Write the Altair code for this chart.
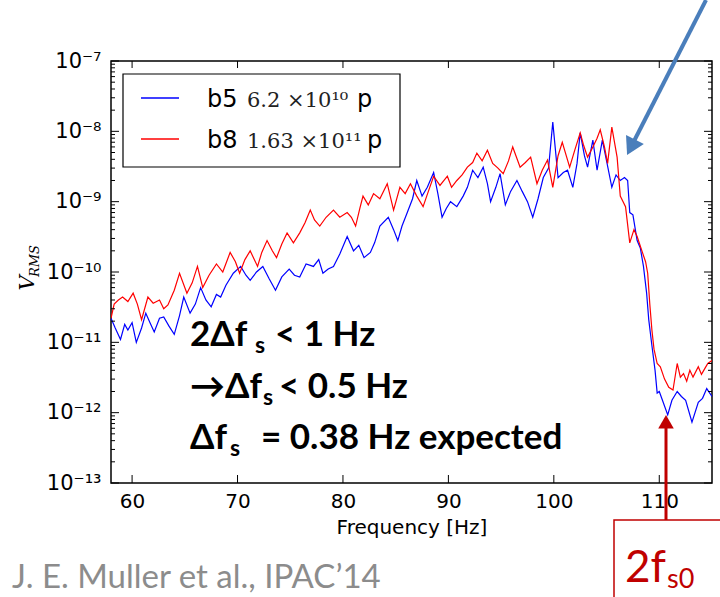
import altair as alt
import pandas as pd

# ---------------- data ----------------
b5_freq = [58.0, 58.4, 58.9, 59.3, 59.6, 60.0, 60.4, 60.9, 61.3, 61.7,
           62.1, 62.6, 63.0, 63.5, 64.0, 64.5, 64.9, 65.5, 66.0, 66.5,
           67.0, 67.5, 68.0, 68.4, 68.9, 69.6, 70.3, 70.8, 71.2, 71.8,
           72.4, 73.0, 73.6, 74.2, 74.9, 75.4, 75.9, 76.5, 77.2, 77.7,
           78.1, 78.6, 79.1, 79.7, 80.4, 81.0, 81.5, 82.0, 82.6, 83.0,
           83.5, 84.3, 84.8, 85.2, 85.6, 86.1, 86.6, 87.0, 87.5, 88.0,
           88.6, 89.0, 89.4, 89.8, 90.2, 90.8, 91.4, 91.8, 92.3, 92.8,
           93.3, 93.7, 94.0, 94.5, 94.9, 95.4, 95.9, 96.5, 97.0, 97.5,
           98.0, 98.5, 99.0, 99.5, 99.9, 100.4, 100.9, 101.3, 101.8, 102.2,
           102.5, 102.9, 103.2, 103.7, 104.1, 104.6, 105.0, 105.5, 105.9, 106.3,
           106.7, 107.0, 107.2, 107.5, 107.9, 108.2, 108.5, 108.8, 109.0, 109.3,
           109.6, 109.8, 110.0, 110.3, 110.8, 111.2, 111.7, 112.1, 112.5, 113.1,
           113.7, 114.1, 114.5, 115.0]
b5_vrms = [2.2e-11, 1.6e-11, 1.1e-11, 1.8e-11, 1.5e-11, 1.9e-11, 1.0e-11, 1.6e-11, 2.6e-11, 1.9e-11,
           1.4e-11, 2.2e-11, 2.3e-11, 1.7e-11, 1.3e-11, 2.4e-11, 4.4e-11, 2.6e-11, 3.5e-11, 6.0e-11,
           4.0e-11, 3.2e-11, 4.8e-11, 4.4e-11, 6.5e-11, 9.6e-11, 1.2e-10, 9.0e-11, 7.6e-11, 1.0e-10,
           1.2e-10, 8.0e-11, 5.5e-11, 8.5e-11, 1.1e-10, 9.0e-11, 8.5e-11, 1.3e-10, 1.2e-10, 1.5e-10,
           9.6e-11, 1.1e-10, 1.2e-10, 1.8e-10, 3.2e-10, 2.0e-10, 2.4e-10, 1.6e-10, 1.9e-10, 2.6e-10,
           4.5e-10, 6.0e-10, 4.0e-10, 2.8e-10, 4.5e-10, 7.0e-10, 1.1e-9, 2.0e-9, 1.2e-9, 1.6e-9,
           2.6e-9, 1.3e-9, 6.0e-10, 8.0e-10, 1.0e-9, 8.5e-10, 1.2e-9, 1.6e-9, 2.8e-9, 2.2e-9,
           3.1e-9, 1.8e-9, 1.0e-9, 1.6e-9, 2.5e-9, 9.0e-10, 1.4e-9, 2.0e-9, 1.4e-9, 1.0e-9,
           6.0e-10, 1.1e-9, 2.2e-9, 3.0e-9, 1.35e-8, 2.2e-9, 2.6e-9, 2.8e-9, 1.6e-9, 3.5e-9,
           9.5e-9, 4.5e-9, 3.1e-9, 7.5e-9, 2.8e-9, 7.5e-9, 3.8e-9, 1.6e-9, 2.4e-9, 2.0e-9,
           2.2e-9, 2.0e-9, 7.0e-10, 6.5e-10, 2.8e-10, 2.2e-10, 1.2e-10, 5.0e-11, 2.1e-11, 9.0e-12,
           4.0e-12, 1.9e-12, 2.0e-12, 1.5e-12, 9.3e-13, 1.5e-12, 2.0e-12, 1.7e-12, 1.5e-12, 7.3e-13,
           1.4e-12, 1.6e-12, 2.2e-12, 1.7e-12]

b8_freq = [58.0, 58.3, 58.7, 59.1, 59.6, 60.1, 60.5, 60.9, 61.5, 62.0,
           62.6, 63.0, 63.4, 64.0, 64.5, 65.2, 65.7, 66.2, 66.7, 67.3,
           68.0, 68.6, 69.3, 69.8, 70.2, 70.7, 71.2, 71.9, 72.3, 72.8,
           73.3, 73.7, 74.2, 74.7, 75.3, 75.9, 76.4, 76.9, 77.3, 77.8,
           78.4, 79.1, 79.7, 80.4, 80.8, 81.2, 81.6, 81.9, 82.4, 82.9,
           83.5, 84.2, 84.8, 85.4, 85.9, 86.4, 87.0, 87.6, 88.1, 88.6,
           89.2, 89.9, 90.3, 90.8, 91.3, 91.8, 92.3, 92.7, 93.2, 93.7,
           94.2, 94.7, 95.2, 95.7, 96.1, 96.8, 97.3, 97.8, 98.4, 98.9,
           99.4, 99.9, 100.4, 100.8, 101.5, 102.0, 102.5, 102.8, 103.2, 103.7,
           104.1, 104.4, 104.8, 105.1, 105.5, 106.0, 106.3, 106.8, 107.2, 107.6,
           107.9, 108.4, 108.7, 108.9, 109.1, 109.3, 109.5, 109.8, 110.1, 110.5,
           110.9, 111.3, 111.7, 112.0, 112.3, 112.6, 112.9, 113.2, 113.7, 114.0,
           114.3, 114.6, 115.0]
b8_vrms = [2.2e-11, 3.5e-11, 4.0e-11, 4.4e-11, 3.8e-11, 5.0e-11, 3.5e-11, 2.1e-11, 4.4e-11, 3.6e-11,
           4.0e-11, 3.0e-11, 3.4e-11, 5.5e-11, 9.6e-11, 5.0e-11, 7.0e-11, 1.2e-10, 6.0e-11, 9.0e-11,
           1.3e-10, 1.0e-10, 1.9e-10, 1.4e-10, 9.6e-11, 1.5e-10, 2.0e-10, 1.2e-10, 1.9e-10, 2.8e-10,
           2.0e-10, 1.6e-10, 2.5e-10, 3.6e-10, 2.6e-10, 3.6e-10, 5.0e-10, 7.6e-10, 5.5e-10, 4.5e-10,
           6.0e-10, 7.6e-10, 6.0e-10, 7.0e-10, 6.0e-10, 4.5e-10, 8.0e-10, 1.2e-9, 9.0e-10, 1.3e-9,
           1.1e-9, 1.8e-9, 7.6e-10, 1.6e-9, 1.3e-9, 1.8e-9, 1.2e-9, 8.5e-10, 1.4e-9, 2.3e-9,
           1.7e-9, 2.3e-9, 1.6e-9, 2.0e-9, 2.4e-9, 3.1e-9, 3.6e-9, 4.9e-9, 3.8e-9, 5.4e-9,
           3.5e-9, 3.0e-9, 2.5e-9, 3.8e-9, 6.0e-9, 3.1e-9, 3.6e-9, 4.3e-9, 1.8e-9, 2.8e-9,
           3.9e-9, 1.6e-9, 4.5e-9, 7.0e-9, 3.1e-9, 5.5e-9, 9.5e-9, 6.5e-9, 4.3e-9, 6.0e-9,
           8.0e-9, 1.05e-8, 6.0e-9, 3.5e-9, 1.15e-8, 4.3e-9, 1.2e-9, 8.5e-10, 2.6e-10, 4.0e-10,
           3.2e-10, 1.9e-10, 1.4e-10, 9.6e-11, 3.5e-11, 1.5e-11, 8.0e-12, 5.0e-12, 4.5e-12, 3.0e-12,
           2.3e-12, 2.1e-12, 5.0e-12, 3.2e-12, 3.6e-12, 2.8e-12, 4.0e-12, 3.2e-12, 4.5e-12, 3.5e-12,
           4.2e-12, 5.0e-12, 5.5e-12]

series_colors = ["#0000ff", "#ff0000"]
legend_names = ["b5", "b8"]
legend_intensity = ["6.2 ×10¹⁰", "1.63 ×10¹¹"]
x_ticks = [60, 70, 80, 90, 100, 110]
y_ticks = [1e-13, 1e-12, 1e-11, 1e-10, 1e-9, 1e-8, 1e-7]
y_tick_labels = ["10⁻¹³", "10⁻¹²", "10⁻¹¹", "10⁻¹⁰", "10⁻⁹", "10⁻⁸", "10⁻⁷"]
y_minor = [m * d for d in y_ticks[:-1] for m in range(2, 10)]
x_title = "Frequency [Hz]"
note_lines = [["2Δf", "s", "< 1 Hz"], ["→Δf", "s", "< 0.5 Hz"], ["Δf", "s", "= 0.38 Hz expected"]]
citation = "J. E. Muller et al., IPAC’14"

# ---------------- layout ----------------
W, H = 601, 422
xscale = alt.Scale(domain=[58, 115], nice=False, zero=False)
yscale = alt.Scale(type="log", domain=[1e-13, 1e-7], nice=False)

label_expr = ""
for v, lab in zip(y_ticks, y_tick_labels):
    label_expr += f"datum.value < {v * 3:g} ? '{lab}' : "
label_expr += "''"

xaxis = alt.Axis(values=x_ticks, ticks=False, domain=False, grid=False, title=x_title,
                 labelFont="DejaVu Sans", labelFontSize=20, labelColor="black", labelPadding=8,
                 labelFlush=False, titleFont="DejaVu Sans", titleFontSize=20,
                 titleFontWeight="normal", titleColor="black", titlePadding=6)
yaxis = alt.Axis(values=y_ticks, ticks=False, domain=False, grid=False, title=None,
                 labelExpr=label_expr, labelFont="DejaVu Sans", labelFontSize=21,
                 labelColor="black", labelPadding=10, labelFlush=False)

df5 = pd.DataFrame({"freq": b5_freq, "vrms": b5_vrms})
df8 = pd.DataFrame({"freq": b8_freq, "vrms": b8_vrms})

blue = alt.Chart(df5).mark_line(color=series_colors[0], strokeWidth=1.2, clip=True).encode(
    x=alt.X("freq:Q", scale=xscale, axis=xaxis),
    y=alt.Y("vrms:Q", scale=yscale, axis=yaxis))
red = alt.Chart(df8).mark_line(color=series_colors[1], strokeWidth=1.2, clip=True).encode(
    x=alt.X("freq:Q", scale=xscale, axis=xaxis),
    y=alt.Y("vrms:Q", scale=yscale, axis=yaxis))

# inward ticks on all four sides
ymaj = pd.DataFrame({"vrms": y_ticks})
ymin = pd.DataFrame({"vrms": y_minor})
xmaj = pd.DataFrame({"freq": x_ticks})
tick_layers = []
for d, ln in ((ymaj, 8), (ymin, 4)):
    for x0, x1 in ((0, ln), (W, W - ln)):
        tick_layers.append(alt.Chart(d).mark_rule(color="black", strokeWidth=1).encode(
            y=alt.Y("vrms:Q", scale=yscale, axis=yaxis), x=alt.value(x0), x2=alt.value(x1)))
for y0, y1 in ((0, 7), (H, H - 8)):
    tick_layers.append(alt.Chart(xmaj).mark_rule(color="black", strokeWidth=1).encode(
        x=alt.X("freq:Q", scale=xscale, axis=xaxis), y=alt.value(y0), y2=alt.value(y1)))

one = alt.Data(values=[{}])

# legend (manual, mixed fonts like the original)
legend_layers = [
    alt.Chart(one).mark_rect(fill="white", stroke="black", strokeWidth=1.2).encode(
        x=alt.value(12), x2=alt.value(289), y=alt.value(13), y2=alt.value(106))]
for i in range(2):
    yy = 37 + 41 * i
    legend_layers.append(alt.Chart(one).mark_rule(color=series_colors[i], strokeWidth=1.5).encode(
        x=alt.value(30), x2=alt.value(68), y=alt.value(yy)))
    legend_layers.append(alt.Chart(one).mark_text(text=legend_names[i], font="DejaVu Sans", fontSize=24,
                                                  align="left", baseline="alphabetic", color="black").encode(
        x=alt.value(96), y=alt.value(yy + 9)))
    legend_layers.append(alt.Chart(one).mark_text(text=legend_intensity[i], font="DejaVu Serif", fontSize=21,
                                                  align="left", baseline="alphabetic", color="#222222").encode(
        x=alt.value(136), y=alt.value(yy + 9)))
    legend_layers.append(alt.Chart(one).mark_text(text="p", font="DejaVu Sans", fontSize=24,
                                                  align="left", baseline="alphabetic", color="black").encode(
        x=alt.value(246 + 10 * i), y=alt.value(yy + 9)))

# y-axis title V_RMS
title_layers = [
    alt.Chart(one).mark_text(text="V", font="DejaVu Serif", fontStyle="italic", fontSize=21, angle=270,
                             align="center", baseline="alphabetic", color="black").encode(
        x=alt.value(-77), y=alt.value(222)),
    alt.Chart(one).mark_text(text="RMS", font="DejaVu Serif", fontStyle="italic", fontSize=13, angle=270,
                             align="center", baseline="alphabetic", color="black").encode(
        x=alt.value(-72), y=alt.value(200)),
]

# bold annotation text
note_x = [[79, 144, 164], [79, 152, 168], [79, 119, 150]]
note_y = [285, 337, 388]
note_layers = []
for li, parts in enumerate(note_lines):
    for pi, part in enumerate(parts):
        sub = pi == 1
        note_layers.append(alt.Chart(one).mark_text(
            text=part, font="Lato", fontWeight="bold", fontSize=23 if sub else 35,
            align="left", baseline="alphabetic", color="black").encode(
            x=alt.value(note_x[li][pi]), y=alt.value(note_y[li] + (7 if sub else 0))))

# arrows and boxes
arrow_layers = [
    alt.Chart(one).mark_rule(color="#4a7ebb", strokeWidth=4).encode(
        x=alt.value(595), y=alt.value(-61), x2=alt.value(520), y2=alt.value(86)),
    alt.Chart(one).mark_point(shape="triangle-up", filled=True, size=400, angle=207,
                              color="#4a7ebb", opacity=1, strokeWidth=0).encode(
        x=alt.value(520), y=alt.value(86.3)),
    alt.Chart(one).mark_rule(color="#c00000", strokeWidth=3).encode(
        x=alt.value(555), y=alt.value(360), y2=alt.value(459)),
    alt.Chart(one).mark_point(shape="triangle-up", filled=True, size=243,
                              color="#c00000", opacity=1, strokeWidth=0).encode(
        x=alt.value(555), y=alt.value(360.7)),
    alt.Chart(one).mark_rect(fill="white", stroke="#c00000", strokeWidth=1.5).encode(
        x=alt.value(503), x2=alt.value(640), y=alt.value(459), y2=alt.value(560)),
    alt.Chart(one).mark_text(text="2f", font="Lato", fontSize=44, align="left",
                             baseline="alphabetic", color="#c00000").encode(
        x=alt.value(514), y=alt.value(521)),
    alt.Chart(one).mark_text(text="s0", font="Lato", fontSize=27, align="left",
                             baseline="alphabetic", color="#c00000").encode(
        x=alt.value(556), y=alt.value(527)),
    alt.Chart(one).mark_text(text=citation, font="Lato", fontSize=33, align="left",
                             baseline="alphabetic", color="#8c8c8c").encode(
        x=alt.value(-99), y=alt.value(527)),
]

chart = alt.layer(blue, red, *tick_layers, *legend_layers, *title_layers, *note_layers, *arrow_layers).properties(
    width=W, height=H,
    padding={"left": 111, "top": 61, "right": 8, "bottom": 114},
    autosize=alt.AutoSizeParams(type="none"),
    background="white",
).configure_view(stroke="black", strokeWidth=1.5)

chart.save("out.html", embed_options={"renderer": "svg", "actions": False})
